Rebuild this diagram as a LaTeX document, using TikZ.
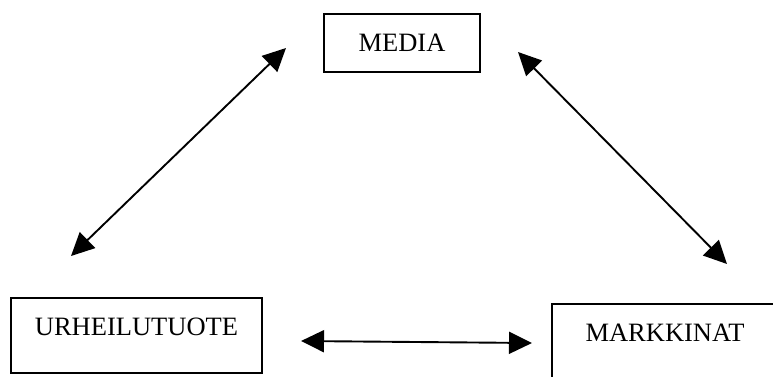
\documentclass[tikz,border=0pt]{standalone}
\usepackage{fontspec}
\setmainfont{Liberation Serif}
\usetikzlibrary{arrows.meta}
\begin{document}
\begin{tikzpicture}[x=1pt,y=-1pt,
		box/.style={draw,line width=1.6pt,inner sep=0pt,anchor=base,text height=37.75pt,text depth=37.25pt},
		link/.style={line width=1.9pt,{Triangle[length=23pt,width=22pt]}-{Triangle[length=23pt,width=22pt]}}]
			\newcommand{\mylabel}[1]{%
				\fontsize{26.5}{30}\selectfont{#1}%
			}%Page frame
			\useasboundingbox (0,0) rectangle (773,376);
			%The three boxes
			\node [box,minimum width=156pt,text depth=20.25pt] (media) at (402,51.75) {\mylabel{MEDIA}};
			\node [box,minimum width=251pt] (urheilu) at (136.5,335.75) {\mylabel{URHEILUTUOTE}};
			\node [box,minimum width=226pt] (markkinat) at (665,341.75) {\mylabel{MARKKINAT}};
			%Ends of the arrows
			\coordinate (mediaLeft) at (286,48);
			\coordinate (mediaRight) at (518,52);
			\coordinate (urheiluTop) at (71,256);
			\coordinate (urheiluRight) at (301,341);
			\coordinate (markkinatTop) at (727,264);
			\coordinate (markkinatLeft) at (532,343);
			%Arrows between the boxes
			\draw [link] (urheiluTop) -- (mediaLeft);
			\draw [link] (mediaRight) -- (markkinatTop);
			\draw [link] (urheiluRight) -- (markkinatLeft);
\end{tikzpicture}
\end{document}
